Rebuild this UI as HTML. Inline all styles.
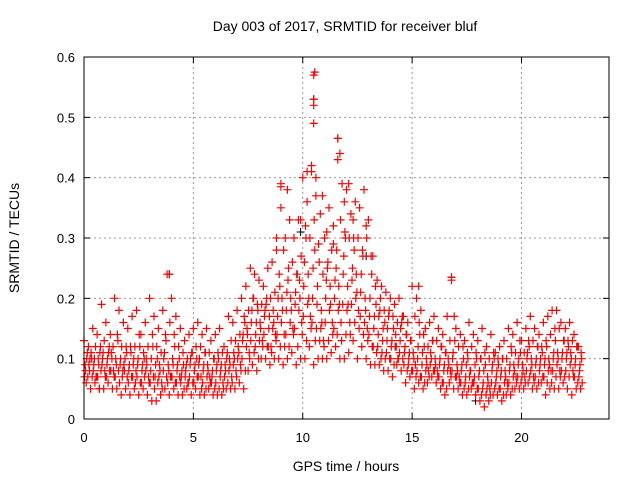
<!DOCTYPE html>
<html><head><meta charset="utf-8"><style>
body{margin:0;background:#fff}
svg{display:block;font-family:"Liberation Sans",sans-serif}
</style></head><body>
<svg id="chart" width="640" height="480">
<text x="345" y="31" font-size="14" text-anchor="middle">Day 003 of 2017, SRMTID for receiver bluf</text>
<text x="346" y="471" font-size="14" text-anchor="middle">GPS time / hours</text>
<text transform="translate(19,238) rotate(-90)" font-size="14" text-anchor="middle">SRMTID / TECUs</text>
<g id="grid"></g>
<g id="ticks"></g>
<g id="pts"></g>
<rect x="84" y="57" width="525" height="362" fill="none" stroke="#000"/>
</svg>
<script>
const xTicks=[0,5,10,15,20];
const yTicks=[0,0.1,0.2,0.3,0.4,0.5,0.6];
const yTickLabels=["0","0.1","0.2","0.3","0.4","0.5","0.6"];
const slotStep=0.2;
const hiVals=[.13,.12,.15,.14,.19,.16,.14,.2,.18,.16, .15,.17,.18,.14,.16,.2,.17,.15,.18,.24, .2,.17,.15,.13,.14,.15,.16,.14,.15,.13, .14,.15,.12,.17,.16,.18,.2,.22,.25,.24, .23,.22,.25,.26,.3,.39,.3,.33,.3,.33, .4,.41,.42,.37,.34,.3,.35,.32,.43,.39, .38,.34,.36,.35,.38,.33,.27,.23,.22,.21, .2,.19,.2,.17,.16,.22,.2,.18,.15,.16, .17,.15,.14,.17,.23,.15,.14,.13,.16,.14, .13,.15,.12,.14,.11,.12,.13,.15,.14,.16, .13,.15,.17,.15,.14,.16,.17,.18,.18,.16, .15,.16,.14,.12];
const loVals=[.06,.05,.06,.05,.05,.06,.05,.05,.04,.05, .04,.05,.04,.05,.04,.03,.03,.04,.05,.04, .05,.04,.04,.05,.04,.05,.04,.04,.05,.04, .04,.04,.05,.05,.05,.06,.05,.08,.09,.08, .1,.1,.09,.1,.1,.09,.1,.11,.09,.1, .1,.12,.09,.1,.1,.1,.11,.12,.1,.1, .11,.13,.1,.12,.1,.09,.09,.09,.08,.08, .07,.09,.08,.06,.07,.05,.06,.05,.06,.07, .06,.05,.04,.06,.05,.05,.04,.04,.05,.04, .03,.02,.03,.04,.04,.03,.04,.04,.05,.05, .05,.06,.05,.05,.06,.04,.05,.05,.05,.06, .05,.04,.05,.05];
const mid1Vals=[.09,.08,.09,.1,.1,.09,.11,.1,.09,.08, .08,.09,.09,.08,.1,.08,.07,.09,.1,.09, .1,.08,.07,.08,.09,.08,.09,.08,.09,.07, .08,.08,.09,.1,.11,.12,.13,.15,.16,.14, .16,.17,.15,.18,.17,.2,.18,.2,.19,.23, .22,.24,.2,.19,.18,.2,.22,.2,.22,.24, .22,.23,.24,.21,.2,.17,.15,.14,.13,.13, .12,.14,.13,.11,.1,.11,.1,.09,.1,.11, .1,.09,.08,.1,.1,.09,.08,.07,.08,.07, .07,.06,.07,.08,.07,.07,.08,.08,.09,.09, .09,.1,.1,.09,.09,.09,.1,.1,.11,.1, .1,.11,.09,.08];
const mid2Vals=[.11,.1,.07,.12,.08,.12,.08,.13,.07,.11, .11,.06,.12,.1,.07,.12,.1,.06,.13,.07, .12,.1,.09,.06,.11,.1,.07,.11,.07,.1, .1,.06,.11,.07,.08,.09,.16,.11,.2,.18, .13,.2,.12,.14,.22,.14,.25,.15,.24,.16, .3,.17,.28,.26,.13,.26,.16,.28,.16,.3, .16,.28,.18,.27,.15,.24,.19,.2,.16,.18, .15,.1,.17,.14,.13,.09,.14,.12,.08,.13, .08,.12,.11,.08,.13,.07,.1,.1,.06,.1, .1,.09,.05,.1,.09,.1,.06,.11,.07,.11, .07,.12,.07,.12,.11,.12,.08,.13,.08,.13, .12,.08,.12,.1];
const mid3Vals=[.07,.09,.08,.07,.09,.07,.08,.07,.06,.09, .06,.07,.07,.06,.08,.06,.05,.07,.08,.06, .07,.06,.06,.07,.07,.06,.07,.06,.07,.06, .06,.07,.07,.08,.09,.1,.1,.12,.13,.12, .13,.14,.12,.15,.14,.16,.14,.16,.15,.18, .17,.19,.16,.15,.15,.16,.18,.15,.18,.19, .18,.19,.2,.17,.16,.14,.12,.12,.11,.11, .1,.12,.11,.09,.09,.08,.08,.07,.08,.09, .08,.07,.06,.08,.08,.07,.06,.06,.07,.06, .05,.05,.05,.06,.06,.05,.06,.06,.07,.07, .07,.08,.08,.07,.08,.07,.08,.08,.09,.08, .08,.09,.07,.07];
const mid4Vals=[.1,.11,.12,.11,.13,.11,.12,.14,.12,.12, .12,.12,.14,.11,.12,.14,.12,.11,.14,.16, .14,.12,.11,.1,.11,.12,.12,.11,.11,.1, .11,.11,.1,.13,.13,.14,.17,.18,.2,.19, .19,.19,.2,.21,.24,.28,.23,.26,.24,.27, .32,.3,.33,.29,.24,.25,.28,.25,.33,.31, .3,.3,.3,.28,.3,.27,.22,.18,.18,.17, .17,.16,.16,.14,.13,.17,.16,.14,.12,.13, .13,.12,.11,.13,.17,.12,.12,.11,.12,.11, .1,.11,.1,.11,.1,.1,.1,.12,.11,.13, .11,.13,.13,.12,.12,.13,.14,.15,.15,.13, .13,.13,.12,.11];
const mid5Vals=[.08,.1,.1,.09,.11,.1,.1,.09,.1,.1, .09,.1,.1,.09,.09,.1,.09,.08,.11,.08, .09,.09,.08,.09,.1,.09,.1,.09,.08,.08, .09,.09,.08,.09,.1,.11,.14,.14,.18,.16, .15,.18,.17,.16,.2,.18,.21,.18,.21,.2, .26,.2,.25,.22,.16,.23,.19,.23,.19,.27, .19,.25,.21,.24,.18,.2,.17,.17,.15,.15, .13,.12,.15,.12,.11,.1,.12,.11,.09,.1, .09,.1,.09,.09,.11,.08,.09,.09,.08,.09, .08,.08,.06,.09,.08,.08,.07,.09,.08,.1, .08,.11,.09,.1,.1,.1,.09,.11,.1,.11, .11,.1,.1,.09];
const mid6Vals=[.07,.07,.07,.08,.07,.08,.07,.08,.08,.07, .07,.08,.06,.07,.06,.07,.06,.05,.07,.07, .06,.07,.05,.06,.06,.07,.05,.05,.06,.05, .05,.05,.06,.06,.07,.08,.08,.1,.11,.1, .12,.12,.11,.13,.12,.12,.12,.14,.12,.14, .13,.15,.13,.13,.12,.13,.14,.14,.13,.14, .14,.16,.15,.14,.13,.12,.11,.1,.1,.1, .09,.1,.1,.08,.08,.07,.07,.06,.07,.08, .07,.06,.05,.07,.07,.06,.05,.05,.06,.05, .04,.04,.04,.05,.05,.04,.05,.05,.06,.06, .06,.07,.06,.06,.07,.06,.06,.07,.07,.07, .07,.07,.06,.06];
const spikeTimes=[10.5,10.55,10.5,10.5,10.5,11.6,11.6,11.7,9.0,9.3,3.9,16.8,15.3,10.4,10.6,12.1,11.9,9.0,12.6,10.9,9.9,10.2,11.1,12.3,12.9,8.8,9.6,11.4];
const spikeVals=[.57,.575,.53,.52,.49,.465,.43,.44,.385,.38,.24,.235,.22,.41,.40,.39,.36,.35,.35,.37,.33,.36,.31,.33,.32,.28,.3,.29];
const blackTimes=[10.5,3.9,16.8,11.6,9.9,12.9,0.7,17.9];
const blackVals=[.53,.24,.235,.465,.31,.27,.05,.03];

const X=h=>84+h*(525/24);
const Y=v=>419-v*(362/0.6);
const NS="http://www.w3.org/2000/svg";
const grid=document.getElementById('grid'),ticks=document.getElementById('ticks'),pts=document.getElementById('pts');
function line(g,x1,y1,x2,y2,st,da){const l=document.createElementNS(NS,'line');l.setAttribute('x1',x1);l.setAttribute('y1',y1);l.setAttribute('x2',x2);l.setAttribute('y2',y2);l.setAttribute('stroke',st);if(da)l.setAttribute('stroke-dasharray',da);g.appendChild(l);return l;}
function txt(g,x,y,s,a){const t=document.createElementNS(NS,'text');t.setAttribute('x',x);t.setAttribute('y',y);t.setAttribute('font-size','13');t.setAttribute('text-anchor',a);t.textContent=s;g.appendChild(t);return t;}
xTicks.forEach(v=>{const x=X(v);
 if(v>0){const gl=line(grid,x,57,x,419,'#999','2,3');}
 line(ticks,x,419,x,413,'#000');line(ticks,x,57,x,63,'#000');
 const t=txt(ticks,x,442,String(v),'middle');
 
 
});
yTicks.forEach((v,i)=>{const y=Y(v);
 if(v>0&&v<0.6){const gl=line(grid,84,y,609,y,'#999','2,3');}
 line(ticks,84,y,90,y,'#000');line(ticks,609,y,603,y,'#000');
 const t=txt(ticks,75,y+5,yTickLabels[i],'end');
 
 
});
let dBlack='',dRed='';
function cross(h,v){const x=X(h),y=Y(v);return `M${(x-4).toFixed(1)} ${y.toFixed(1)}h8M${x.toFixed(1)} ${(y-4).toFixed(1)}v8`;}
blackTimes.forEach((t,i)=>{dBlack+=cross(t,blackVals[i]);});
const series=[hiVals,loVals,mid1Vals,mid2Vals,mid3Vals,mid4Vals,mid5Vals,mid6Vals];
const offs=[0,0.1,0.05,0.15,0.025,0.125,0.075,0.175];
for(let i=0;i<hiVals.length;i++){const t=i*slotStep;
 series.forEach((s,k)=>{dRed+=cross(t+offs[k],s[i]);});
}
spikeTimes.forEach((t,i)=>{dRed+=cross(t,spikeVals[i]);});
const pb=document.createElementNS(NS,'path');pb.setAttribute('d',dBlack);pb.setAttribute('stroke','#000');pb.setAttribute('fill','none');


pts.appendChild(pb);
const pr=document.createElementNS(NS,'path');pr.setAttribute('d',dRed);pr.setAttribute('stroke','#f00');pr.setAttribute('stroke-width','1.2');pr.setAttribute('fill','none');


pts.appendChild(pr);
</script>
</body></html>
